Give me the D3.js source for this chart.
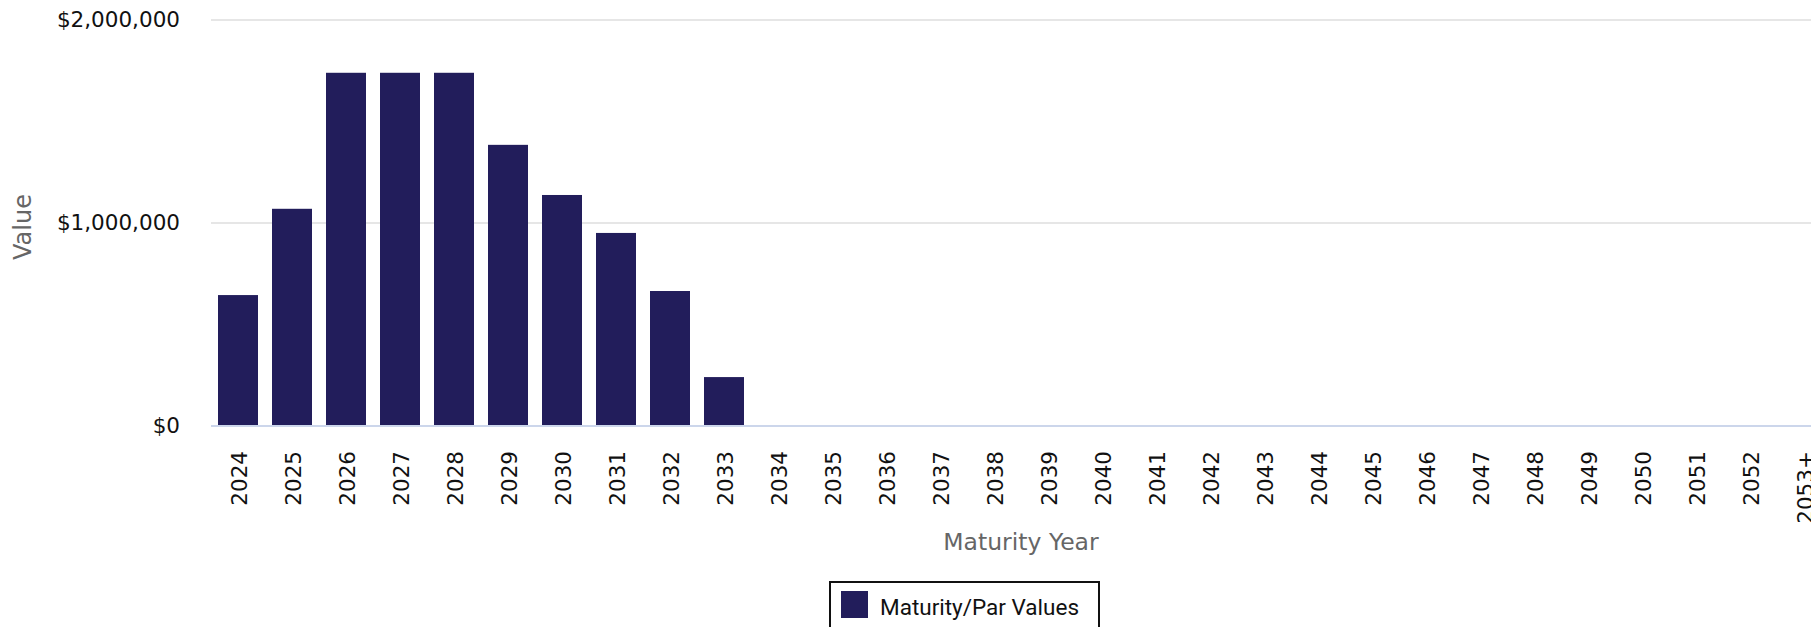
<!DOCTYPE html>
<html>
<head>
<meta charset="utf-8">
<script src="https://cdn.jsdelivr.net/npm/d3@7"></script>
<style>
  html, body { margin: 0; padding: 0; background: #fff; overflow: hidden; }
  svg { display: block; }
</style>
</head>
<body>
<svg id="svg" width="1811" height="627"></svg>
<script>
// maturity years and par values
const years = ["2024", "2025", "2026", "2027", "2028", "2029", "2030", "2031", "2032", "2033",
  "2034", "2035", "2036", "2037", "2038", "2039", "2040", "2041", "2042", "2043",
  "2044", "2045", "2046", "2047", "2048", "2049", "2050", "2051", "2052", "2053+"];
const values = [645000, 1070000, 1740000, 1740000, 1740000, 1385000, 1138000, 951000, 665000, 241000,
  0, 0, 0, 0, 0, 0, 0, 0, 0, 0,
  0, 0, 0, 0, 0, 0, 0, 0, 0, 0];
const yTicks = [0, 1000000, 2000000];
const seriesName = "Maturity/Par Values";
const barColor = "#221d5b";

let data = years.map((y, i) => ({ year: y, value: values[i] }));

let svg = d3.select("svg");
// plot area runs past the right edge of the window, like the original
let plot = { left: 211, right: 1831, top: 20, bottom: 426 };

let x = d3.scaleBand().domain(years).range([plot.left, plot.right]).padding(0);
let y = d3.scaleLinear().domain([0, 2000000]).range([plot.bottom, plot.top]);

let fmt = v => "$" + d3.format(",")(v);

// grid lines
svg.append("g")
  .selectAll("line")
  .data(yTicks.filter(t => t > 0))
  .enter().append("line")
    .attr("x1", plot.left)
    .attr("x2", plot.right)
    .attr("y1", d => y(d))
    .attr("y2", d => y(d))
    .attr("stroke", "#e6e6e6")
    .attr("stroke-width", 2);

// y axis labels
let yAxis = svg.append("g")
  .attr("transform", "translate(" + (plot.left - 31) + ",0)")
  .call(d3.axisLeft(y).tickValues(yTicks).tickFormat(fmt).tickSize(0).tickPadding(0));
yAxis.select(".domain").remove();
yAxis.selectAll("text")
  .attr("font-family", "DejaVu Sans")
  .attr("font-size", 21.5)
  .attr("fill", "#111");

// bars
let bw = x.bandwidth() * 40 / 54;
svg.append("g")
  .selectAll("rect")
  .data(data)
  .enter().append("rect")
    .attr("x", d => x(d.year) + (x.bandwidth() - bw) / 2)
    .attr("y", d => y(d.value))
    .attr("width", bw)
    .attr("height", d => y(0) - y(d.value))
    .attr("fill", barColor);

// x axis line
svg.append("line")
  .attr("x1", plot.left)
  .attr("x2", plot.right)
  .attr("y1", plot.bottom)
  .attr("y2", plot.bottom)
  .attr("stroke", "#ccd6eb")
  .attr("stroke-width", 2);

// x axis labels, rotated
let xAxis = svg.append("g")
  .attr("transform", "translate(0," + plot.bottom + ")")
  .call(d3.axisBottom(x).tickSize(0).tickPadding(0));
xAxis.select(".domain").remove();
xAxis.selectAll("text")
  .attr("font-family", "DejaVu Sans")
  .attr("font-size", 21.5)
  .attr("fill", "#111")
  .attr("text-anchor", "end")
  .attr("y", 0)
  .attr("dy", "0.35em")
  .attr("transform", "translate(1,25) rotate(-90)");

// axis titles
svg.append("text")
  .attr("transform", "translate(23," + 227 + ") rotate(-90)")
  .attr("text-anchor", "middle")
  .attr("dy", "0.35em")
  .attr("font-family", "DejaVu Sans")
  .attr("font-size", 24)
  .attr("fill", "#666")
  .text("Value");

svg.append("text")
  .attr("x", (plot.left + plot.right) / 2)
  .attr("y", 550)
  .attr("text-anchor", "middle")
  .attr("font-family", "DejaVu Sans")
  .attr("font-size", 23.5)
  .attr("fill", "#666")
  .text("Maturity Year");

// legend
let legend = svg.append("g").attr("transform", "translate(830,582)");
legend.append("rect")
  .attr("x", 0)
  .attr("y", 0)
  .attr("width", 269)
  .attr("height", 70)
  .attr("fill", "none")
  .attr("stroke", "#111")
  .attr("stroke-width", 2);
legend.append("rect")
  .attr("x", 11)
  .attr("y", 9)
  .attr("width", 27)
  .attr("height", 27)
  .attr("fill", barColor);
legend.append("text")
  .attr("x", 50)
  .attr("y", 33)
  .attr("font-family", "Roboto")
  .attr("font-size", 22.5)
  .attr("fill", "#111")
  .text(seriesName);
</script>
</body>
</html>
